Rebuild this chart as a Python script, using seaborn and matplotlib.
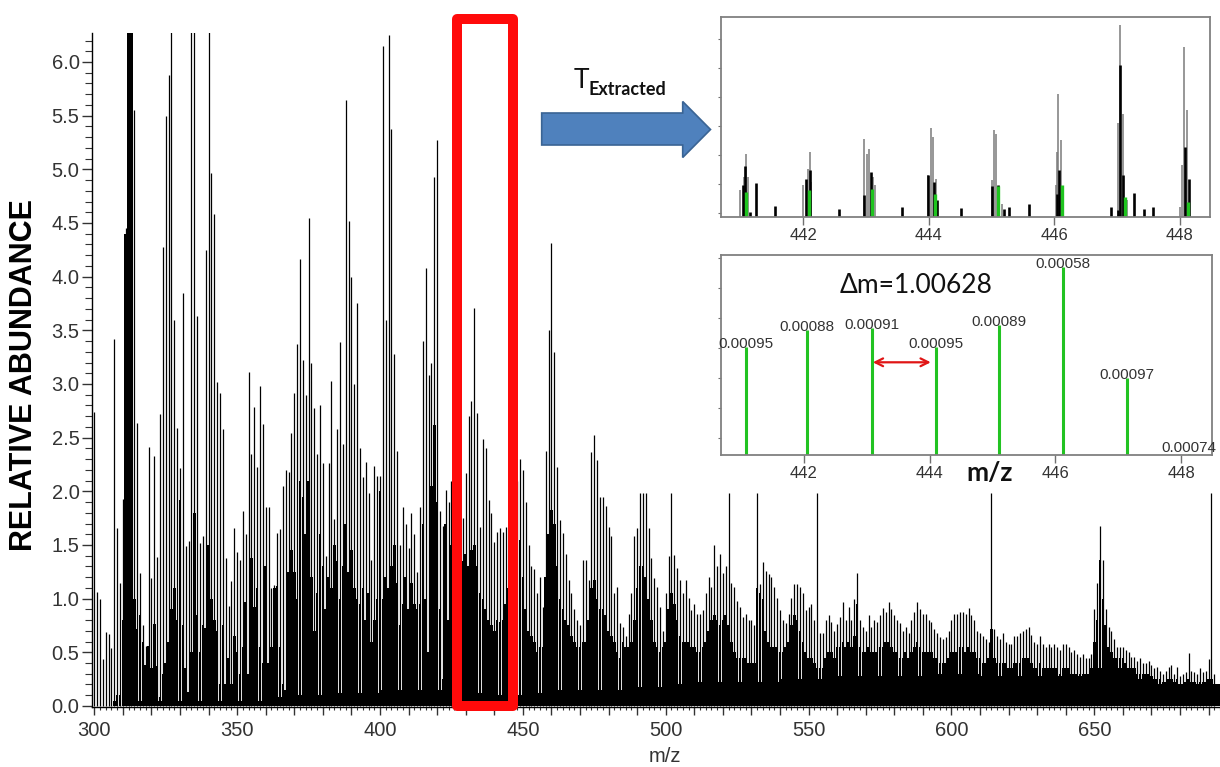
import numpy as np
import pandas as pd
import matplotlib
matplotlib.use("Agg")
import matplotlib.pyplot as plt
import seaborn as sns
from matplotlib.patches import Rectangle, Polygon
from matplotlib.ticker import MultipleLocator, FixedLocator, FuncFormatter, NullFormatter

# ---------------- data ----------------
MZ_START = 300
PEAK = [
    2.74, 1.06, 1.00, 0.44, 0.69, 0.67, 0.54, 3.42, 1.66, 1.15,   # 300
    1.93, 4.45, 6.50, 6.50, 5.55, 2.64, 1.24, 0.75, 0.56, 2.41,   # 310
    1.19, 2.33, 1.39, 2.72, 4.28, 5.50, 5.88, 6.50, 3.60, 2.59,   # 320
    2.22, 3.85, 1.49, 1.54, 6.50, 6.50, 3.63, 1.52, 1.58, 4.25,   # 330
    6.50, 4.97, 4.58, 3.02, 2.92, 2.58, 1.38, 0.93, 1.16, 1.66,   # 340
    1.43, 1.36, 1.82, 1.60, 3.11, 2.35, 2.79, 2.23, 2.98, 2.63,   # 350
    1.85, 1.85, 1.10, 1.13, 1.61, 1.65, 2.05, 2.20, 2.18, 2.54,   # 360
    2.92, 3.37, 4.16, 3.22, 2.90, 4.55, 3.20, 2.78, 2.35, 2.80,   # 370
    2.26, 1.40, 2.26, 3.03, 1.74, 2.58, 3.39, 2.44, 5.65, 4.52,   # 380
    4.00, 3.00, 3.75, 2.40, 2.13, 2.27, 1.98, 1.36, 2.24, 2.14,   # 390
    2.14, 6.15, 3.60, 6.25, 5.38, 3.28, 2.38, 1.50, 1.85, 1.70,   # 400
    1.47, 1.80, 1.60, 1.25, 1.85, 3.40, 4.08, 3.08, 3.20, 4.93,   # 410
    5.27, 1.82, 1.68, 2.01, 1.90, 2.10, 1.40, 1.60, 1.75, 1.75,   # 420
    2.17, 2.70, 2.84, 3.71, 2.73, 1.67, 2.49, 2.40, 1.92, 1.80,   # 430
    1.53, 1.62, 1.66, 1.62, 1.67, 2.32, 2.28, 1.55, 2.10, 2.30,   # 440
    2.20, 1.90, 1.50, 1.30, 1.28, 1.05, 1.20, 0.92, 2.38, 3.50,   # 450
    4.31, 3.30, 2.23, 1.73, 1.61, 1.42, 1.17, 1.05, 0.90, 0.80,   # 460
    0.75, 1.36, 1.36, 1.17, 2.37, 2.52, 2.29, 1.95, 1.95, 1.86,   # 470
    1.67, 1.58, 1.05, 1.11, 0.77, 0.74, 0.65, 0.86, 1.05, 1.58,   # 480
    1.66, 1.98, 1.98, 1.98, 1.66, 1.38, 1.19, 1.11, 0.92, 0.70,   # 490
    1.05, 1.40, 1.98, 1.41, 1.29, 1.17, 1.05, 1.17, 1.01, 0.89,   # 500
    0.95, 0.86, 0.86, 0.89, 1.05, 1.20, 1.11, 1.50, 1.30, 1.42,   # 510
    1.24, 1.30, 1.98, 1.15, 1.11, 0.98, 0.92, 0.83, 0.86, 0.80,   # 520
    0.80, 0.75, 1.98, 1.14, 1.34, 1.26, 1.23, 1.20, 1.11, 1.01,   # 530
    0.89, 0.80, 0.77, 0.86, 1.01, 1.14, 1.14, 1.11, 1.05, 0.89,   # 540
    0.92, 0.95, 0.80, 1.98, 0.68, 0.68, 0.80, 0.85, 0.78, 0.70,   # 550
    0.76, 0.83, 0.97, 0.80, 0.92, 0.80, 1.00, 1.24, 0.80, 0.74,   # 560
    0.70, 0.85, 0.74, 0.80, 0.78, 0.85, 0.91, 0.88, 0.97, 0.90,   # 570
    0.85, 0.80, 0.77, 0.70, 0.74, 0.68, 0.80, 0.88, 0.97, 0.90,   # 580
    0.86, 0.86, 0.80, 0.78, 0.72, 0.68, 0.64, 0.62, 0.64, 0.70,   # 590
    0.80, 0.86, 0.86, 0.88, 0.88, 0.86, 0.91, 0.85, 0.80, 0.70,   # 600
    0.68, 0.65, 0.62, 0.60, 1.98, 0.72, 0.65, 0.62, 0.68, 0.60,   # 610
    0.58, 0.58, 0.65, 0.65, 0.68, 0.70, 0.72, 0.74, 0.66, 0.60,   # 620
    0.58, 0.65, 0.58, 0.55, 0.58, 0.55, 0.58, 0.55, 0.52, 0.58,   # 630
    0.58, 0.55, 0.50, 0.52, 0.48, 0.46, 0.48, 0.45, 0.45, 0.48,   # 640
    0.90, 1.15, 1.68, 1.36, 0.90, 0.74, 0.70, 0.62, 0.55, 0.55,   # 650
    0.55, 0.52, 0.50, 0.46, 0.46, 0.42, 0.45, 0.40, 0.40, 0.42,   # 660
    0.38, 0.35, 0.36, 0.33, 0.30, 0.33, 0.36, 0.38, 0.30, 0.36,   # 670
    0.28, 0.30, 0.32, 0.49, 0.33, 0.32, 0.30, 0.35, 0.32, 0.33,   # 680
    0.44, 1.98, 0.30,                                             # 690
]
BODY = [
    0.00, 0.00, 0.00, 0.00, 0.00, 0.00, 0.00, 0.05, 0.10, 0.10,   # 300
    0.80, 4.40, 6.50, 6.50, 1.00, 0.72, 0.85, 0.60, 0.38, 0.56,   # 310
    0.35, 0.76, 0.37, 0.08, 0.30, 0.40, 0.60, 0.90, 1.10, 0.80,   # 320
    1.92, 0.75, 0.35, 0.13, 0.50, 1.80, 0.85, 0.50, 0.75, 0.73,   # 330
    1.50, 1.00, 0.80, 0.70, 0.20, 0.75, 0.20, 0.45, 0.20, 0.65,   # 340
    0.50, 0.30, 0.55, 0.97, 0.30, 1.38, 0.92, 1.10, 0.55, 0.40,   # 350
    1.30, 0.40, 0.55, 1.10, 1.12, 0.55, 0.20, 0.15, 1.25, 1.45,   # 360
    1.25, 1.00, 2.10, 1.95, 1.60, 2.10, 1.20, 0.70, 1.05, 1.60,   # 370
    1.30, 0.90, 1.20, 1.10, 1.50, 1.35, 1.00, 1.30, 1.70, 1.25,   # 380
    1.45, 1.10, 1.00, 0.95, 1.10, 0.80, 1.05, 0.60, 0.80, 1.00,   # 390
    2.00, 1.00, 1.20, 1.10, 1.30, 1.50, 1.15, 0.75, 0.95, 1.20,   # 400
    0.90, 1.15, 0.95, 0.90, 0.95, 1.70, 1.00, 0.50, 2.05, 2.62,   # 410
    1.90, 0.90, 0.25, 1.70, 0.80, 1.50, 1.20, 0.80, 1.30, 1.35,   # 420
    1.42, 1.30, 1.45, 1.50, 1.30, 1.05, 1.00, 0.90, 0.80, 0.75,   # 430
    0.70, 0.80, 0.78, 0.80, 0.95, 1.10, 1.20, 1.10, 1.00, 1.55,   # 440
    1.20, 0.90, 0.70, 0.65, 0.60, 0.50, 0.55, 0.55, 1.20, 1.60,   # 450
    1.83, 1.70, 1.30, 1.00, 0.90, 0.80, 0.75, 0.65, 0.60, 0.55,   # 460
    0.55, 0.60, 0.60, 0.80, 1.10, 1.17, 1.00, 0.90, 0.90, 0.85,   # 470
    0.70, 0.65, 0.60, 0.50, 0.45, 0.60, 0.55, 0.55, 0.60, 0.80,   # 480
    1.10, 1.30, 1.30, 1.20, 1.00, 0.80, 0.60, 0.55, 0.50, 0.55,   # 490
    0.60, 0.90, 1.05, 0.95, 0.80, 0.65, 0.60, 0.60, 0.60, 0.55,   # 500
    0.55, 0.50, 0.50, 0.55, 0.60, 0.70, 0.80, 0.85, 0.80, 0.75,   # 510
    0.80, 0.85, 0.75, 0.60, 0.50, 0.45, 0.45, 0.45, 0.45, 0.40,   # 520
    0.40, 0.40, 1.10, 1.05, 1.00, 0.70, 0.60, 0.55, 0.55, 0.55,   # 530
    0.50, 0.50, 0.55, 0.60, 0.75, 0.85, 0.80, 0.70, 0.60, 0.50,   # 540
    0.45, 0.45, 0.40, 0.35, 0.35, 0.35, 0.45, 0.50, 0.50, 0.45,   # 550
    0.55, 0.55, 0.60, 0.55, 0.60, 0.55, 0.65, 0.95, 0.55, 0.50,   # 560
    0.50, 0.55, 0.50, 0.50, 0.50, 0.55, 0.55, 0.60, 0.60, 0.55,   # 570
    0.50, 0.50, 0.45, 0.45, 0.50, 0.45, 0.50, 0.55, 0.60, 0.55,   # 580
    0.50, 0.50, 0.50, 0.50, 0.45, 0.45, 0.40, 0.40, 0.40, 0.45,   # 590
    0.50, 0.50, 0.50, 0.55, 0.55, 0.50, 0.55, 0.50, 0.50, 0.45,   # 600
    0.45, 0.40, 0.40, 0.45, 0.72, 0.45, 0.40, 0.40, 0.40, 0.40,   # 610
    0.35, 0.35, 0.40, 0.40, 0.40, 0.45, 0.45, 0.45, 0.40, 0.35,   # 620
    0.35, 0.40, 0.35, 0.35, 0.35, 0.35, 0.35, 0.35, 0.30, 0.35,   # 630
    0.35, 0.35, 0.30, 0.30, 0.30, 0.30, 0.30, 0.30, 0.30, 0.35,   # 640
    0.60, 0.80, 1.36, 1.00, 0.75, 0.55, 0.50, 0.45, 0.45, 0.45,   # 650
    0.45, 0.40, 0.35, 0.35, 0.35, 0.30, 0.30, 0.30, 0.30, 0.30,   # 660
    0.28, 0.25, 0.25, 0.25, 0.22, 0.22, 0.25, 0.25, 0.22, 0.25,   # 670
    0.20, 0.20, 0.22, 0.25, 0.22, 0.22, 0.20, 0.22, 0.22, 0.22,   # 680
    0.25, 0.25, 0.20,                                             # 690
]
FLOOR_BIN = list(range(300, 700, 10))
FLOOR = [0.00, 0.05, 0.05, 0.05, 0.05, 0.05, 0.08, 0.10, 0.12, 0.12,
         0.15, 0.15, 0.15, 0.12, 0.10, 0.12, 0.15, 0.15, 0.15, 0.18,
         0.20, 0.22, 0.22, 0.22, 0.25, 0.25, 0.28, 0.28, 0.28, 0.30,
         0.30, 0.28, 0.28, 0.28, 0.28, 0.35, 0.25, 0.20, 0.20, 0.20]

# extracted window (top inset)
INSET_GRAY_MZ = [441.00, 441.06, 441.09, 441.12, 442.00, 442.07, 442.10, 442.13,
                 442.97, 443.02, 443.05, 443.11, 443.14, 443.99, 444.03, 444.06, 444.11,
                 445.00, 445.04, 445.07, 445.16, 446.02, 446.04, 446.06, 446.10,
                 447.02, 447.05, 447.10, 447.16, 448.00, 448.03, 448.06, 448.11]
INSET_GRAY_H = [27, 40, 63, 40, 32, 48, 65, 35,
                78, 63, 68, 40, 32, 42, 89, 80, 38,
                37, 87, 83, 13, 32, 65, 123, 77,
                94, 192, 103, 17, 10, 52, 170, 107]
INSET_BLACK_MZ = [441.04, 441.08, 441.15, 441.24, 441.55, 442.04, 442.10, 442.57,
                  442.97, 443.08, 443.57, 443.99, 444.08, 444.13, 444.51,
                  445.00, 445.10, 445.20, 445.28, 445.59, 446.04, 446.08, 446.91,
                  447.02, 447.05, 447.10, 447.27, 447.43, 447.57, 448.08, 448.14]
INSET_BLACK_H = [32, 51, 5, 34, 11, 38, 47, 8,
                 22, 45, 10, 42, 35, 17, 9,
                 31, 32, 8, 10, 13, 23, 47, 10,
                 7, 152, 42, 24, 8, 10, 70, 38]
INSET_GREEN_MZ = [441.09, 442.09, 443.09, 444.10, 445.10, 446.12, 447.12, 448.13]
INSET_GREEN_H = [25, 27, 28, 23, 31, 32, 20, 15]

# isotope series (bottom inset)
ISO_MZ = [441.08, 442.06, 443.08, 444.10, 445.10, 446.12, 447.13, 448.12]
ISO_H = [108, 125, 127, 108, 130, 188, 77, 1]
ISO_LABELS = ["0.00095", "0.00088", "0.00091", "0.00095", "0.00089", "0.00058", "0.00097", "0.00074"]
INSET_TICKS = [442, 444, 446, 448]

assert len(PEAK) == len(BODY)

# ---------------- style ----------------
sns.set_style("ticks")
plt.rcParams["font.family"] = ["Liberation Sans", "DejaVu Sans"]
CAL = ["Lato", "DejaVu Sans"]

W, H = 1220, 767
fig = plt.figure(figsize=(W / 100, H / 100), dpi=100)


def fx(px):
    return px / W


def fy(py):
    return 1 - py / H


# ---------------- main spectrum ----------------
ax = fig.add_axes([fx(92), fy(706.5), fx(1220) - fx(92), fy(33) - fy(706.5)])
df = pd.DataFrame({"mz": np.arange(MZ_START, MZ_START + len(PEAK)), "peak": PEAK, "body": BODY})
ax.bar(FLOOR_BIN, FLOOR, width=10, align="edge", color="black", linewidth=0)
ax.bar(df["mz"], df["body"], width=0.86, color="black", linewidth=0)
ax.vlines(df["mz"], 0, df["peak"], color="black", linewidth=0.9)
ax.set_xlim(299.2, 694.0)
ax.set_ylim(-0.005, 6.27)
sns.despine(ax=ax)
for s in ("left", "bottom"):
    ax.spines[s].set_color("black")
    ax.spines[s].set_linewidth(1.0)

ax.yaxis.set_major_locator(MultipleLocator(0.5))
ax.yaxis.set_minor_locator(MultipleLocator(0.1))
ax.yaxis.set_major_formatter(FuncFormatter(lambda v, p: f"{v:.1f}"))
ax.xaxis.set_major_locator(MultipleLocator(10))
ax.xaxis.set_minor_locator(MultipleLocator(2))
ax.xaxis.set_major_formatter(FuncFormatter(lambda v, p: f"{v:.0f}" if abs(v % 50) < 1e-6 else ""))
ax.tick_params(axis="y", which="major", length=7.5, width=1, color="#333333",
               labelsize=14.5, labelcolor="#333333", pad=1.5, direction="out", left=True)
ax.tick_params(axis="y", which="minor", length=5, width=0.8, color="#333333", direction="out", left=True)
ax.tick_params(axis="x", which="major", length=5.5, width=1, color="#333333",
               labelsize=14.5, labelcolor="#333333", pad=5, direction="out", bottom=True)
ax.tick_params(axis="x", which="minor", length=2.5, width=0.8, color="#333333", direction="out", bottom=True)

fig.text(fx(665), fy(757), "m/z", ha="center", va="center", fontsize=14.5, color="#333333")
fig.text(fx(24), fy(375), "RELATIVE ABUNDANCE", ha="center", va="center", rotation=90,
         fontsize=22, fontweight="bold", color="black")

# red selection box
ax.add_patch(Rectangle((426.9, 0.0), 19.75, 6.40, fill=False, edgecolor="#ff0a0a",
                       linewidth=7.2, joinstyle="round", clip_on=False, zorder=6))

# ---------------- top inset: extracted window ----------------
ins1 = fig.add_axes([fx(720.7), fy(216.7), fx(1210) - fx(720.7), fy(16.7) - fy(216.7)])
ins1.vlines(INSET_GRAY_MZ, 0, INSET_GRAY_H, color="#7a7a7a", linewidth=1.1)
ins1.vlines(INSET_BLACK_MZ, 0, INSET_BLACK_H, color="black", linewidth=1.9)
ins1.vlines(INSET_GREEN_MZ, 0, INSET_GREEN_H, color="#1fc41f", linewidth=2.4)
ins1.set_xlim(440.685, 448.48)
ins1.set_ylim(0, 200)

# ---------------- bottom inset: isotope series ----------------
ins2 = fig.add_axes([fx(720.7), fy(455), fx(1211.7) - fx(720.7), fy(255) - fy(455)])
ins2.vlines(ISO_MZ, 0, ISO_H, color="#22c322", linewidth=2.2)
for m, h, lab in zip(ISO_MZ, ISO_H, ISO_LABELS):
    ins2.text(m, max(h, 4) + 3, lab, ha="center", va="center", fontsize=11, color="#333333", clip_on=False)
ins2.annotate("", xy=(444.02, 92.7), xytext=(443.10, 92.7),
              arrowprops=dict(arrowstyle="<->", color="#e01515", lw=1.6, mutation_scale=14,
                              shrinkA=0, shrinkB=0))
ins2.set_xlim(440.685, 448.48)
ins2.set_ylim(0, 200)

for a, yt in ((ins1, [3.7 + 29 * k for k in range(7)]), (ins2, [17 + 30 * k for k in range(7)])):
    a.set_facecolor("white")
    for s in a.spines.values():
        s.set_visible(True)
        s.set_color("#808080")
        s.set_linewidth(1.3)
    a.xaxis.set_major_locator(FixedLocator(INSET_TICKS))
    a.yaxis.set_major_locator(FixedLocator(yt))
    a.yaxis.set_major_formatter(NullFormatter())
    a.tick_params(axis="x", length=5.5, width=1, color="#707070", labelsize=12,
                  labelcolor="#333333", pad=2.5, direction="out", bottom=True)
    a.tick_params(axis="y", length=2.5, width=0.8, color="#707070", direction="out", left=True)

# ---------------- overlay annotations (figure pixels) ----------------
ov = fig.add_axes([0, 0, 1, 1], zorder=10)
ov.set_xlim(0, W)
ov.set_ylim(H, 0)
ov.axis("off")
ov.patch.set_alpha(0)
ov.add_patch(Polygon([(541.7, 113), (682.7, 113), (682.7, 101.5), (710.5, 129.5),
                      (682.7, 157.5), (682.7, 145), (541.7, 145)],
                     closed=True, facecolor="#4f81bd", edgecolor="#3a6494", linewidth=1.2))
ov.text(574, 88.5, "T", fontsize=19, family=CAL, color="#111111", va="baseline", ha="left")
ov.text(589, 95, "Extracted", fontsize=13, family=CAL, fontweight="bold", color="#111111",
        va="baseline", ha="left")
ov.text(916, 293, "\u0394m=1.00628", fontsize=19, family=CAL, color="#111111", ha="center", va="baseline")
ov.text(990, 481, "m/z", fontsize=19, family=CAL, fontweight="bold", color="#111111",
        ha="center", va="baseline")

fig.savefig("out.png", dpi=100)
